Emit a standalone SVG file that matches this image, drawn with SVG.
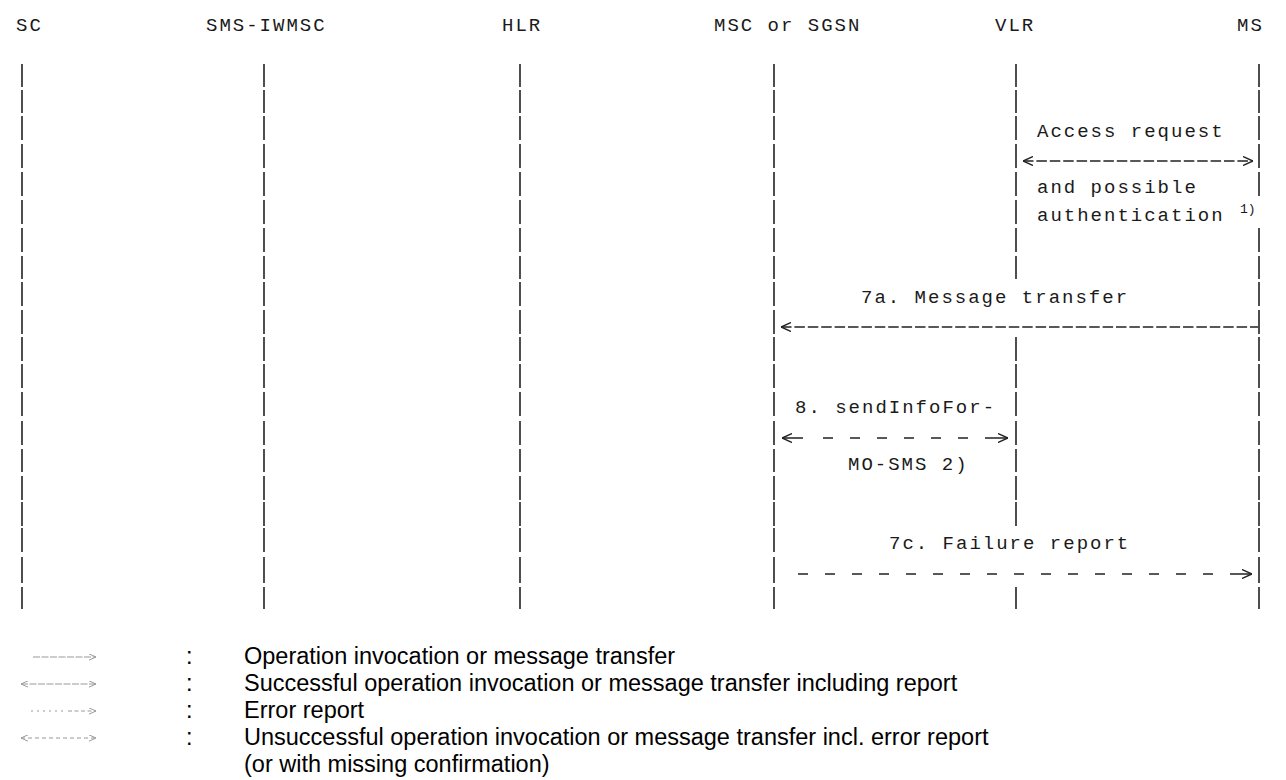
<svg xmlns="http://www.w3.org/2000/svg" width="1286" height="780" viewBox="0 0 1286 780">
<style>
.m{font-family:"Liberation Mono","DejaVu Sans Mono",monospace;font-size:19px;letter-spacing:2px;fill:#1a1a1a}
.sup{font-family:"Liberation Mono","DejaVu Sans Mono",monospace;font-size:13px;fill:#1a1a1a}
.life{fill:none;stroke:#222;stroke-width:1.6}
.msg{fill:none;stroke:#222;stroke-width:1.4}
.solid{stroke-dasharray:10.5 2.9}
.lg{font-family:"Liberation Sans",Arial,sans-serif;font-size:23.5px;fill:#000}
.ls{fill:none;stroke:#999;stroke-width:1.1}
</style>
<defs>
<marker id="hd" viewBox="0 0 10 10" refX="10" refY="5" markerWidth="10" markerHeight="10" markerUnits="userSpaceOnUse" orient="auto-start-reverse"><path d="M0,0.5 L10,5 L0,9.5" fill="none" stroke="#222" stroke-width="1.4"/></marker>
<marker id="hg" viewBox="0 0 10 10" refX="10" refY="5" markerWidth="7" markerHeight="7" markerUnits="userSpaceOnUse" orient="auto-start-reverse"><path d="M0,0.5 L10,5 L0,9.5" fill="none" stroke="#999" stroke-width="1.4"/></marker>
<path id="llAll" d="M0,64V87M0,90V113M0,116V140M0,144V168M0,172V196M0,200V224M0,228V252M0,256V279M0,282V306M0,310V334M0,337V361M0,364V388M0,392V416M0,421V445M0,449V472M0,476V500M0,502V526M0,528V552M0,557V583M0,587V609"/>
<path id="llVlr" d="M0,64V87M0,90V113M0,116V140M0,144V168M0,172V196M0,200V224M0,228V252M0,256V279M0,337V361M0,364V388M0,392V416M0,421V445M0,449V472M0,476V500M0,502V526M0,587V609"/>
<path id="llMs" d="M0,64V87M0,90V113M0,116V140M0,144V168M0,172V196M0,228V252M0,256V279M0,282V306M0,310V334M0,337V361M0,364V388M0,392V416M0,421V445M0,449V472M0,476V500M0,502V526M0,528V552M0,557V583M0,587V609"/>
</defs>
<rect width="1286" height="780" fill="#fff"/>

<g id="node-sc">
<text class="m" x="16" y="31">SC</text>
<use href="#llAll" x="22" class="life"/>
</g>
<g id="node-sms-iwmsc">
<text class="m" x="206" y="31">SMS-IWMSC</text>
<use href="#llAll" x="264" class="life"/>
</g>
<g id="node-hlr">
<text class="m" x="502" y="31">HLR</text>
<use href="#llAll" x="520" class="life"/>
</g>
<g id="node-msc">
<text class="m" x="714" y="31">MSC or SGSN</text>
<use href="#llAll" x="774" class="life"/>
</g>
<g id="node-vlr">
<text class="m" x="995" y="31">VLR</text>
<use href="#llVlr" x="1016" class="life"/>
</g>
<g id="node-ms">
<text class="m" x="1237" y="31">MS</text>
<use href="#llMs" x="1259" class="life"/>
</g>

<g id="connectors">
<path class="msg solid" d="M1023,161 H1253" marker-start="url(#hd)" marker-end="url(#hd)"/>
<path class="msg solid" d="M781,327 H1258" marker-start="url(#hd)"/>
<path class="msg" d="M782,438 H803 M823,438 H833 M850,438 H860 M877,438 H887 M904,438 H914 M931,438 H941 M958,438 H968 M985,438 H1008" marker-start="url(#hd)" marker-end="url(#hd)"/>
<path class="msg" d="M798,574 H808 M825,574 H835 M852,574 H862 M879,574 H889 M906,574 H916 M933,574 H943 M960,574 H970 M987,574 H997 M1014,574 H1024 M1041,574 H1051 M1068,574 H1078 M1095,574 H1105 M1122,574 H1132 M1149,574 H1159 M1176,574 H1186 M1203,574 H1213 M1230,574 H1252" marker-end="url(#hd)"/>
</g>

<g id="labels">
<text class="m" x="1037" y="137">Access request</text>
<text class="m" x="1037" y="193">and possible</text>
<text class="m" x="1037" y="221">authentication</text>
<text class="sup" x="1240" y="213">1)</text>
<text class="m" x="861" y="303">7a. Message transfer</text>
<text class="m" x="795" y="413">8. sendInfoFor-</text>
<text class="m" x="848" y="470">MO-SMS 2)</text>
<text class="m" x="889" y="549">7c. Failure report</text>
</g>

<g id="legend">
<path class="ls" d="M33,657 H96" stroke-dasharray="7 1.5" marker-end="url(#hg)"/>
<path class="ls" d="M21,684 H96" stroke-dasharray="7 1.5" marker-start="url(#hg)" marker-end="url(#hg)"/>
<path class="ls" d="M31,711 H64" stroke-dasharray="2 4"/>
<path class="ls" d="M68,711 H96" stroke-dasharray="4 2.5" marker-end="url(#hg)"/>
<path class="ls" d="M21,738 H96" stroke-dasharray="4 3" marker-start="url(#hg)" marker-end="url(#hg)"/>
<text class="lg" x="186" y="664">:</text>
<text class="lg" x="186" y="691">:</text>
<text class="lg" x="186" y="718">:</text>
<text class="lg" x="186" y="745">:</text>
<text class="lg" x="244" y="664">Operation invocation or message transfer</text>
<text class="lg" x="244" y="691">Successful operation invocation or message transfer including report</text>
<text class="lg" x="244" y="718">Error report</text>
<text class="lg" x="244" y="745">Unsuccessful operation invocation or message transfer incl. error report</text>
<text class="lg" x="244" y="772">(or with missing confirmation)</text>
</g>
</svg>
